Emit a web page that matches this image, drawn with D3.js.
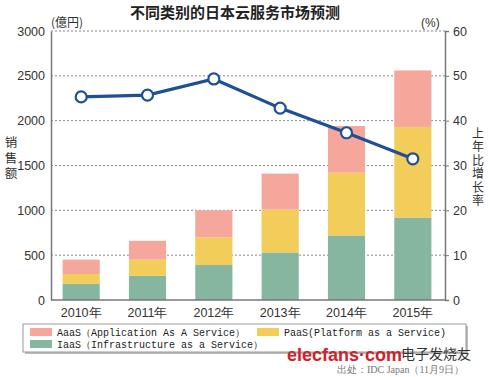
<!DOCTYPE html>
<html><head><meta charset="utf-8">
<script src="https://cdn.jsdelivr.net/npm/d3@7"></script>
<style>body{margin:0;background:#fff}svg{display:block}</style>
</head><body>
<svg id="c" width="490" height="377"></svg>
<script>
const years = ["2010年","2011年","2012年","2013年","2014年","2015年"];
const iaas = [180, 270, 390, 530, 720, 920];
const paas = [110, 180, 310, 480, 700, 1010];
const aaas = [160, 210, 300, 400, 520, 630];
const growth = [45.3, 45.7, 49.3, 42.8, 37.3, 31.5];
const leftTicks = [0, 500, 1000, 1500, 2000, 2500, 3000];
const rightTicks = [0, 10, 20, 30, 40, 50, 60];
const seriesNames = ["IaaS（Infrastructure as a Service）", "PaaS(Platform as a Service)", "AaaS（Application As A Service）"];
const colors = ["#86b5a0", "#f2cd5a", "#f5a79b"];

const svg = d3.select("#c");
const L = 51, R = 445, T = 31, B = 300;
const x = d3.scaleBand().domain(years).range([48, 446]).paddingInner(0.44).paddingOuter(0.22);
const y = d3.scaleLinear().domain([0, 3000]).range([B, T]);
const y2 = d3.scaleLinear().domain([0, 60]).range([B, T]);
const sans = "Liberation Sans, Arial, sans-serif";

// gridlines
svg.append("g").selectAll("line").data(leftTicks.filter(d => d > 0)).join("line")
  .attr("x1", L).attr("x2", R).attr("y1", d => y(d)).attr("y2", d => y(d))
  .attr("stroke", "#8a8a8a").attr("stroke-width", 1).attr("stroke-dasharray", "2,2");

// stacked bars
const rows = years.map((yr, i) => ({year: yr, s0: iaas[i], s1: paas[i], s2: aaas[i]}));
const stack = d3.stack().keys(["s0", "s1", "s2"])(rows);
svg.append("g").selectAll("g").data(stack).join("g")
  .attr("fill", (d, i) => colors[i])
  .selectAll("rect").data(d => d).join("rect")
  .attr("x", d => x(d.data.year)).attr("width", x.bandwidth())
  .attr("y", d => y(d[1])).attr("height", d => y(d[0]) - y(d[1]));

// axes
const axL = svg.append("g").attr("transform", `translate(${L},0)`)
  .call(d3.axisLeft(y).tickValues(leftTicks).tickFormat(d3.format("d")).tickSize(0).tickPadding(6));
const axR = svg.append("g").attr("transform", `translate(${R},0)`)
  .call(d3.axisRight(y2).tickValues(rightTicks).tickFormat(d3.format("d")).tickSize(4).tickPadding(4));
const axB = svg.append("g").attr("transform", `translate(0,${B})`)
  .call(d3.axisBottom(x).tickSize(0).tickPadding(8));
[axL, axR, axB].forEach(a => {
  a.select(".domain").attr("stroke", "#777").attr("stroke-width", 1.5);
  a.selectAll("line").attr("stroke", "#777");
  a.selectAll("text").attr("font-family", sans).attr("font-size", 12.5).attr("fill", "#333");
});
axB.select(".domain").attr("d", `M${L},0H${R}`);

// line
const line = d3.line().x((d, i) => x(years[i]) + x.bandwidth() / 2).y(d => y2(d));
svg.append("path").datum(growth).attr("d", line).attr("fill", "none")
  .attr("stroke", "#1f4f95").attr("stroke-width", 3.2);
svg.append("g").selectAll("circle").data(growth).join("circle")
  .attr("cx", (d, i) => x(years[i]) + x.bandwidth() / 2).attr("cy", d => y2(d)).attr("r", 5.5)
  .attr("fill", "#fff").attr("stroke", "#1f4f95").attr("stroke-width", 2.2);

// titles
const cjk = "Noto Sans CJK SC, sans-serif";
svg.append("text").attr("x", 235).attr("y", 18).attr("text-anchor", "middle")
  .attr("font-family", cjk).attr("font-size", 15).attr("font-weight", "bold").attr("fill", "#222")
  .text("不同类别的日本云服务市场预测");
svg.append("text").attr("x", 51).attr("y", 27).attr("font-family", cjk).attr("font-size", 12).attr("fill", "#333").text("(億円)");
svg.append("text").attr("x", 421).attr("y", 27).attr("font-family", sans).attr("font-size", 12).attr("fill", "#333").text("(%)");
svg.append("text").attr("x", 11).attr("y", 136)
  .style("writing-mode", "vertical-rl").style("text-orientation", "upright").style("letter-spacing", "3px")
  .attr("font-family", cjk).attr("font-size", 12.5).attr("fill", "#333").text("销售额");
svg.append("text").attr("x", 478).attr("y", 127)
  .style("writing-mode", "vertical-rl").style("text-orientation", "upright").style("letter-spacing", "1.5px")
  .attr("font-family", cjk).attr("font-size", 12).attr("fill", "#333").text("上年比增长率");

// legend
const lg = svg.append("g");
lg.append("rect").attr("x", 25).attr("y", 326).attr("width", 443).attr("height", 28).attr("fill", "#bbb");
lg.append("rect").attr("x", 23).attr("y", 324).attr("width", 443).attr("height", 28)
  .attr("fill", "#fff").attr("stroke", "#999").attr("stroke-width", 1);
const items = [
  {i: 2, x: 30, y: 328},
  {i: 1, x: 257, y: 328},
  {i: 0, x: 30, y: 340}
];
items.forEach(it => {
  lg.append("rect").attr("x", it.x).attr("y", it.y).attr("width", 22).attr("height", 8).attr("fill", colors[it.i]);
  lg.append("text").attr("x", it.x + 27).attr("y", it.y + 8).attr("font-family", "Liberation Mono, monospace")
    .attr("font-size", 10).attr("fill", "#222").text(seriesNames[it.i]);
});

// watermark / source
svg.append("text").attr("x", 287).attr("y", 361).attr("font-family", sans).attr("font-size", 18)
  .attr("font-weight", "bold").attr("fill", "#d2202a").text("elecfans·com");
svg.append("text").attr("x", 401).attr("y", 359).attr("font-family", cjk).attr("font-size", 14)
  .attr("fill", "#333").text("电子发烧友");
svg.append("text").attr("x", 337).attr("y", 373).attr("font-family", "Liberation Serif, serif").attr("font-size", 10)
  .attr("fill", "#777").text("出处：IDC Japan（11月9日）");
</script>
</body></html>
